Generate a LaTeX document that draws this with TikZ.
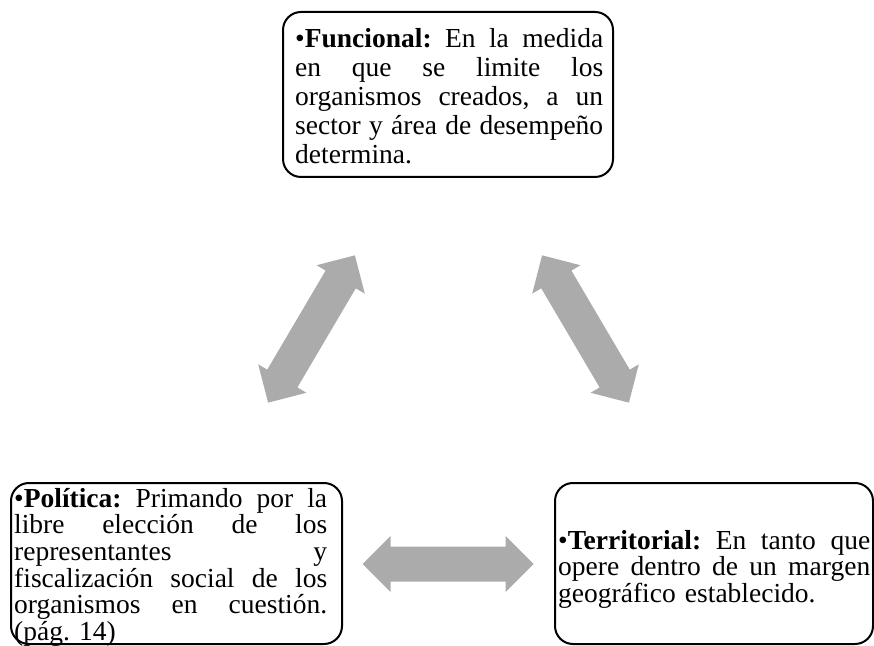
\documentclass[tikz,border=0pt]{standalone}
\usepackage{fontspec}
\setmainfont{Liberation Serif}
\definecolor{arrowgray}{RGB}{171,171,171}
\tikzset{
  box/.style={draw=black, line width=2pt, rounded corners=18pt, inner sep=0pt},
  txt/.style={inner sep=0pt, anchor=base west, align=left},
  dblarrow/.pic={\fill[arrowgray] (-85.5,0) -- (-57.5,28) -- (-57.5,17.5) -- (57.5,17.5) -- (57.5,28) -- (85.5,0) -- (57.5,-28) -- (57.5,-17.5) -- (-57.5,-17.5) -- (-57.5,-28) -- cycle;}
}
\newcommand{\jl}[2]{\leavevmode\hbox to #1{\spaceskip=.25em plus 1fil\relax #2}}
\frenchspacing
\begin{document}
\begin{tikzpicture}[x=1pt,y=1pt]
\useasboundingbox (0,0) rectangle (874,645);
% boxes
\node[box, minimum width=330pt, minimum height=165pt] (fun) at (448,550.5) {};
\node[box, minimum width=331pt, minimum height=161pt] (pol) at (176.5,81.5) {};
\node[box, minimum width=318pt, minimum height=161pt] (ter) at (714,81.5) {};
% texts
\node[txt, text width=308pt, font={\frenchspacing\fontsize{27.5}{29}\selectfont}] (funtxt) at (295,597)
  {\jl{308pt}{•\textbf{Funcional:} En la medida}\\
   \jl{308pt}{en que se limite los}\\
   \jl{308pt}{organismos creados, a un}\\
   \jl{308pt}{sector y área de desempeño}\\
   determina.};
\node[txt, text width=313pt, font={\frenchspacing\fontsize{27.5}{26.7}\selectfont}] (poltxt) at (14,138)
  {\jl{313pt}{•\textbf{Política:} Primando por la}\\
   \jl{313pt}{libre elección de los}\\
   \jl{313pt}{representantes y}\\
   \jl{313pt}{fiscalización social de los}\\
   \jl{313pt}{organismos en cuestión.}\\
   (pág. 14)};
\node[txt, text width=312pt, font={\frenchspacing\fontsize{27.5}{26.5}\selectfont}] (tertxt) at (558,96)
  {\jl{312pt}{•\textbf{Territorial:} En tanto que}\\
   \jl{312pt}{opere dentro de un margen}\\
   geográfico establecido.};
% arrows
\pic[rotate=59.5] (a1) at (311.5,316) {dblarrow};
\pic[rotate=120.5] (a2) at (585.5,316) {dblarrow};
\pic (a3) at (448,81) {dblarrow};
\end{tikzpicture}
\end{document}
